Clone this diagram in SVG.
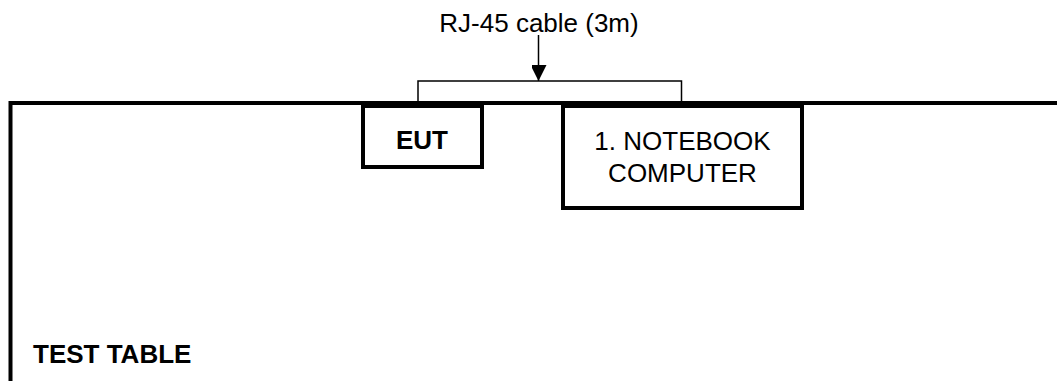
<svg xmlns="http://www.w3.org/2000/svg" width="1057" height="381" viewBox="0 0 1057 381">
<defs>
<style>
text{font-family:"Liberation Sans",Arial,sans-serif;font-size:26px;fill:#000}
.b{font-weight:bold}
.box{fill:#fff;stroke:#000;stroke-width:4}
.thin{fill:none;stroke:#000;stroke-width:1.5}
</style>
<marker id="ah" viewBox="0 0 16 15" refX="16" refY="8" markerWidth="16" markerHeight="15" markerUnits="userSpaceOnUse" orient="auto">
<path d="M0,0 L16,8 L0,16 Z" fill="#000"/>
</marker>
</defs>
<rect width="1057" height="381" fill="#fff"/>
<g id="table">
<path d="M10.5,381 V103 H1057" fill="none" stroke="#000" stroke-width="4"/>
<text class="b" x="33" y="363">TEST TABLE</text>
</g>
<g id="connectors">
<path class="thin" d="M418,101 V81 H681.5 V101"/>
<line class="thin" x1="538.5" y1="35" x2="538.5" y2="81" marker-end="url(#ah)"/>
<text x="539" y="32" text-anchor="middle">RJ-45 cable (3m)</text>
</g>
<g id="eut">
<rect class="box" x="363" y="106" width="119" height="61"/>
<text class="b" x="422" y="149" text-anchor="middle">EUT</text>
</g>
<g id="notebook">
<rect class="box" x="563" y="106" width="239" height="102"/>
<text x="682.5" y="150" text-anchor="middle">1. NOTEBOOK</text>
<text x="682.5" y="182" text-anchor="middle">COMPUTER</text>
</g>
</svg>
